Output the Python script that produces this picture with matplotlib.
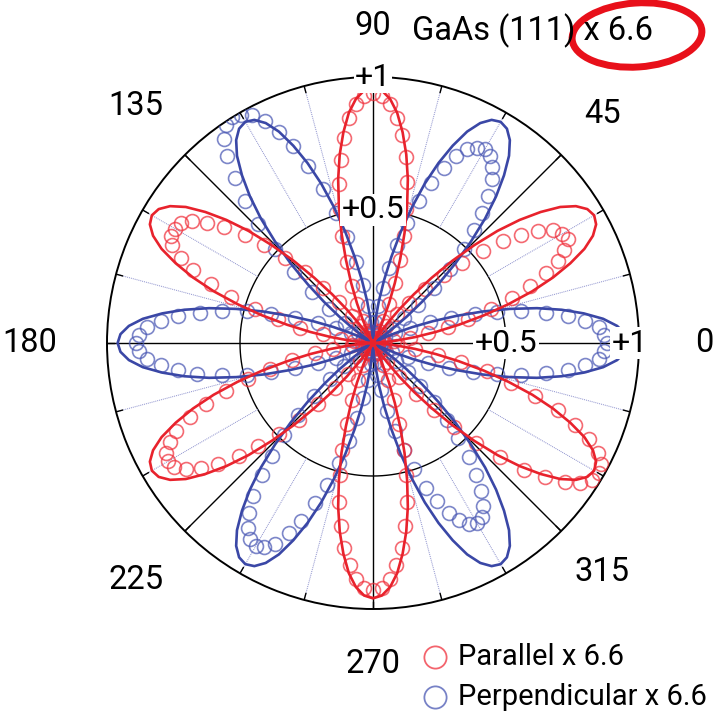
import numpy as np
import matplotlib
matplotlib.use("Agg")
import matplotlib.pyplot as plt
from matplotlib.patches import Ellipse
from matplotlib.lines import Line2D

plt.rcParams['font.family'] = ['Roboto', 'DejaVu Sans']

# ---------------- data ----------------
# sample angles (degrees) of the measured points and fit curves
angle_deg = list(range(0, 360, 2))

# Perpendicular (blue) measured points, x 6.6
perp_data = [
    0.88, 0.87, 0.85, 0.80, 0.74, 0.66, 0.57, 0.48, 0.40, 0.31, 0.23, 0.15, 0.09, 0.05, 0.02,
    0.02, 0.02, 0.04, 0.09, 0.15, 0.22, 0.31, 0.40, 0.49, 0.57, 0.64, 0.70, 0.76, 0.80, 0.83,
    0.84, 0.83, 0.81, 0.77, 0.71, 0.64, 0.56, 0.47, 0.38, 0.29, 0.21, 0.14, 0.08, 0.04, 0.02,
    0.02, 0.02, 0.04, 0.08, 0.14, 0.22, 0.31, 0.41, 0.51, 0.61, 0.71, 0.80, 0.87, 0.93, 0.97,
    0.99, 1.00, 0.99, 0.95, 0.89, 0.81, 0.72, 0.62, 0.51, 0.40, 0.30, 0.21, 0.13, 0.07, 0.03,
    0.02, 0.02, 0.04, 0.09, 0.15, 0.22, 0.31, 0.40, 0.49, 0.58, 0.66, 0.74, 0.80, 0.85, 0.88,
    0.89, 0.88, 0.85, 0.80, 0.74, 0.67, 0.58, 0.49, 0.40, 0.31, 0.22, 0.15, 0.09, 0.04, 0.02,
    0.02, 0.02, 0.04, 0.08, 0.14, 0.21, 0.30, 0.39, 0.48, 0.57, 0.65, 0.73, 0.79, 0.84, 0.87,
    0.88, 0.87, 0.84, 0.78, 0.72, 0.64, 0.56, 0.47, 0.38, 0.29, 0.21, 0.14, 0.08, 0.04, 0.02,
    0.02, 0.02, 0.04, 0.07, 0.12, 0.18, 0.26, 0.34, 0.42, 0.50, 0.58, 0.64, 0.70, 0.74, 0.77,
    0.78, 0.77, 0.74, 0.69, 0.63, 0.56, 0.48, 0.40, 0.32, 0.24, 0.17, 0.11, 0.06, 0.03, 0.02,
    0.02, 0.02, 0.04, 0.08, 0.14, 0.22, 0.30, 0.39, 0.48, 0.57, 0.66, 0.74, 0.80, 0.85, 0.87,
]

# Parallel (red) measured points, x 6.6
para_data = [
    0.02, 0.02, 0.04, 0.08, 0.14, 0.21, 0.29, 0.37, 0.46, 0.55, 0.63, 0.70, 0.76, 0.80, 0.83,
    0.82, 0.80, 0.75, 0.69, 0.62, 0.54, 0.45, 0.37, 0.28, 0.20, 0.14, 0.08, 0.04, 0.02, 0.02,
    0.02, 0.02, 0.05, 0.09, 0.16, 0.24, 0.33, 0.42, 0.52, 0.62, 0.71, 0.79, 0.85, 0.90, 0.93,
    0.94, 0.93, 0.90, 0.85, 0.78, 0.70, 0.61, 0.52, 0.42, 0.32, 0.23, 0.16, 0.09, 0.05, 0.02,
    0.02, 0.02, 0.04, 0.08, 0.13, 0.20, 0.28, 0.37, 0.46, 0.55, 0.63, 0.71, 0.77, 0.82, 0.85,
    0.86, 0.86, 0.84, 0.79, 0.73, 0.65, 0.56, 0.46, 0.37, 0.28, 0.19, 0.12, 0.07, 0.03, 0.02,
    0.02, 0.02, 0.04, 0.08, 0.15, 0.22, 0.31, 0.40, 0.49, 0.58, 0.67, 0.74, 0.81, 0.85, 0.88,
    0.89, 0.88, 0.85, 0.80, 0.74, 0.66, 0.58, 0.49, 0.40, 0.31, 0.22, 0.15, 0.08, 0.04, 0.02,
    0.02, 0.02, 0.04, 0.09, 0.15, 0.23, 0.32, 0.42, 0.51, 0.61, 0.70, 0.78, 0.84, 0.89, 0.92,
    0.93, 0.92, 0.89, 0.84, 0.78, 0.70, 0.61, 0.51, 0.42, 0.32, 0.23, 0.15, 0.09, 0.04, 0.02,
    0.02, 0.02, 0.04, 0.09, 0.16, 0.25, 0.34, 0.44, 0.54, 0.64, 0.74, 0.82, 0.89, 0.94, 0.97,
    0.98, 0.97, 0.94, 0.89, 0.82, 0.74, 0.64, 0.54, 0.44, 0.34, 0.25, 0.16, 0.09, 0.04, 0.02,
]

# Fit curves (same 2-degree angles)
perp_fit = [
    0.96, 0.95, 0.92, 0.87, 0.80, 0.72, 0.63, 0.53, 0.43, 0.33, 0.24, 0.16, 0.09, 0.04, 0.01,
    0.00, 0.01, 0.04, 0.09, 0.16, 0.24, 0.33, 0.43, 0.53, 0.63, 0.72, 0.80, 0.87, 0.92, 0.95,
    0.96, 0.95, 0.92, 0.87, 0.80, 0.72, 0.63, 0.53, 0.43, 0.33, 0.24, 0.16, 0.09, 0.04, 0.01,
    0.00, 0.01, 0.04, 0.09, 0.16, 0.24, 0.33, 0.43, 0.53, 0.63, 0.72, 0.80, 0.87, 0.92, 0.95,
    0.96, 0.95, 0.92, 0.87, 0.80, 0.72, 0.63, 0.53, 0.43, 0.33, 0.24, 0.16, 0.09, 0.04, 0.01,
    0.00, 0.01, 0.04, 0.09, 0.16, 0.24, 0.33, 0.43, 0.53, 0.63, 0.72, 0.80, 0.87, 0.92, 0.95,
    0.96, 0.95, 0.92, 0.87, 0.80, 0.72, 0.63, 0.53, 0.43, 0.33, 0.24, 0.16, 0.09, 0.04, 0.01,
    0.00, 0.01, 0.04, 0.09, 0.16, 0.24, 0.33, 0.43, 0.53, 0.63, 0.72, 0.80, 0.87, 0.92, 0.95,
    0.96, 0.95, 0.92, 0.87, 0.80, 0.72, 0.63, 0.53, 0.43, 0.33, 0.24, 0.16, 0.09, 0.04, 0.01,
    0.00, 0.01, 0.04, 0.09, 0.16, 0.24, 0.33, 0.43, 0.53, 0.63, 0.72, 0.80, 0.87, 0.92, 0.95,
    0.96, 0.95, 0.92, 0.87, 0.80, 0.72, 0.63, 0.53, 0.43, 0.33, 0.24, 0.16, 0.09, 0.04, 0.01,
    0.00, 0.01, 0.04, 0.09, 0.16, 0.24, 0.33, 0.43, 0.53, 0.63, 0.72, 0.80, 0.87, 0.92, 0.95,
]

para_fit = [
    0.00, 0.01, 0.04, 0.09, 0.16, 0.24, 0.33, 0.43, 0.53, 0.63, 0.72, 0.80, 0.87, 0.92, 0.95,
    0.96, 0.95, 0.92, 0.87, 0.80, 0.72, 0.63, 0.53, 0.43, 0.33, 0.24, 0.16, 0.09, 0.04, 0.01,
    0.00, 0.01, 0.04, 0.09, 0.16, 0.24, 0.33, 0.43, 0.53, 0.63, 0.72, 0.80, 0.87, 0.92, 0.95,
    0.96, 0.95, 0.92, 0.87, 0.80, 0.72, 0.63, 0.53, 0.43, 0.33, 0.24, 0.16, 0.09, 0.04, 0.01,
    0.00, 0.01, 0.04, 0.09, 0.16, 0.24, 0.33, 0.43, 0.53, 0.63, 0.72, 0.80, 0.87, 0.92, 0.95,
    0.96, 0.95, 0.92, 0.87, 0.80, 0.72, 0.63, 0.53, 0.43, 0.33, 0.24, 0.16, 0.09, 0.04, 0.01,
    0.00, 0.01, 0.04, 0.09, 0.16, 0.24, 0.33, 0.43, 0.53, 0.63, 0.72, 0.80, 0.87, 0.92, 0.95,
    0.96, 0.95, 0.92, 0.87, 0.80, 0.72, 0.63, 0.53, 0.43, 0.33, 0.24, 0.16, 0.09, 0.04, 0.01,
    0.00, 0.01, 0.04, 0.09, 0.16, 0.24, 0.33, 0.43, 0.53, 0.63, 0.72, 0.80, 0.87, 0.92, 0.95,
    0.96, 0.95, 0.92, 0.87, 0.80, 0.72, 0.63, 0.53, 0.43, 0.33, 0.24, 0.16, 0.09, 0.04, 0.01,
    0.00, 0.01, 0.04, 0.09, 0.16, 0.24, 0.33, 0.43, 0.53, 0.63, 0.72, 0.80, 0.87, 0.92, 0.95,
    0.96, 0.95, 0.92, 0.87, 0.80, 0.72, 0.63, 0.53, 0.43, 0.33, 0.24, 0.16, 0.09, 0.04, 0.01,
]

angle_labels = ["0", "45", "90", "135", "180", "225", "270", "315"]
radial_labels = ["+0.5", "+1"]
radial_values = [0.5, 1.0]
title_text = "GaAs (111) x 6.6"
legend_labels = ["Parallel x 6.6", "Perpendicular x 6.6"]

# ---------------- style ----------------
RED_LINE = "#e8222c"
RED_MARK = "#f0303c"
BLUE_LINE = "#3a47a6"
BLUE_MARK = "#4a58b4"
FS_ANG = 23.5
FS_RAD = 23
FS_TITLE = 23.5
FS_LEG = 21

fig = plt.figure(figsize=(7.19, 7.13), dpi=100)
W, H = 719, 713
ax = fig.add_axes([107 / W, 104 / H, 532 / W, 532 / H], projection="polar")
ax.set_ylim(0, 1.0)
ax.set_xticks([])
ax.set_yticks([])
ax.grid(False)
ax.spines["polar"].set_color("black")
ax.spines["polar"].set_linewidth(1.4)

th = np.deg2rad(np.array(angle_deg, dtype=float))
th_closed = np.append(th, th[0] + 2 * np.pi)

# grid: inner circle
circ = np.linspace(0, 2 * np.pi, 361)
ax.plot(circ, np.full_like(circ, 0.5), color="black", lw=1.0, zorder=1)
# major radial lines every 45 degrees
for a in range(0, 360, 45):
    ax.plot([np.deg2rad(a)] * 2, [0, 1.0], color="black", lw=1.0, zorder=1)
# minor dotted lines every 15 degrees from inner to outer circle
for a in range(0, 360, 15):
    if a % 45 != 0:
        ax.plot([np.deg2rad(a)] * 2, [0.5, 1.0], color="#8a8ecc", lw=0.7,
                ls=(0, (1, 1)), zorder=1)
    ax.plot([np.deg2rad(a)] * 2, [0.975, 1.0], color="black", lw=1.0, zorder=1)

# data + fits
ax.plot(th, perp_data, "o", mfc="none", mec=BLUE_MARK, ms=10, mew=1.2, alpha=0.72, zorder=3)
ax.plot(th, para_data, "o", mfc="none", mec=RED_MARK, ms=10, mew=1.2, alpha=0.72, zorder=3)
ax.plot(th_closed, np.append(perp_fit, perp_fit[0]), color=BLUE_LINE, lw=1.9, zorder=4)
ax.plot(th_closed, np.append(para_fit, para_fit[0]), color=RED_LINE, lw=1.9, zorder=4)

# radial labels (on 90 and 0 degree axes)
bb = dict(facecolor="white", edgecolor="none", pad=1.0)
for v, lab in zip(radial_values, radial_labels):
    ax.text(np.deg2rad(90), v, lab, ha="center", va="center", fontsize=FS_RAD,
            bbox=bb, zorder=6)
    ax.text(0, v if v < 1 else 0.965, lab, ha="center", va="center", fontsize=FS_RAD,
            bbox=bb, zorder=6)

# angle labels
label_pos = [(0, 1.245), (45, 1.22), (90, 1.19), (135, 1.26),
             (180, 1.29), (225, 1.26), (270, 1.205), (315, 1.22)]
for (a, r), lab in zip(label_pos, angle_labels):
    ax.text(np.deg2rad(a), r, lab, ha="center", va="center", fontsize=FS_ANG,
            clip_on=False)

# title
fig.text(412 / W, 1 - 31 / H, title_text, ha="left", va="center", fontsize=FS_TITLE)

# red ellipse highlight
ell = Ellipse((637 / W, 1 - 35 / H), 130 / W, 64 / H, angle=4,
              transform=fig.transFigure, fill=False, edgecolor="#e8101a", lw=5)
fig.add_artist(ell)

# legend
for i, (lab, col) in enumerate(zip(legend_labels, [RED_MARK, BLUE_MARK])):
    y = 1 - (657 + 40 * i) / H
    fig.add_artist(Line2D([435 / W], [y], marker="o", mfc="none", mec=col, ms=16,
                          mew=1.3, alpha=0.75, transform=fig.transFigure))
    fig.text(458 / W, y, lab, ha="left", va="center", fontsize=FS_LEG)

fig.savefig("out.png", dpi=100)
